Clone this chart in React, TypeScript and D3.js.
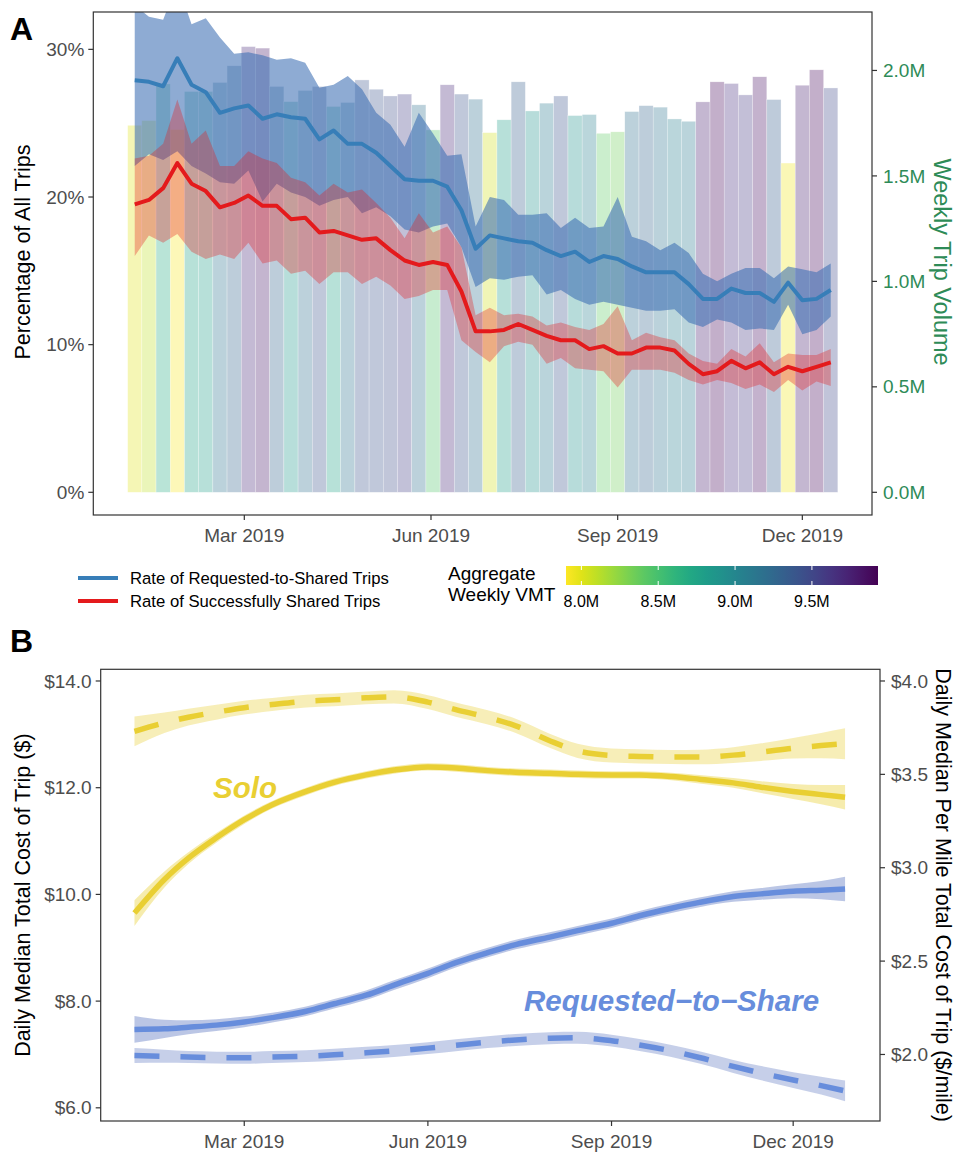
import React from 'react';
import * as d3 from 'd3';

const FONT = "'Liberation Sans', Arial, Helvetica, sans-serif";

// ---------------- Panel A data (weekly) ----------------
const firstWeek = '2019-01-06';
// weekly trip volume, millions
const tripVolumeM = [1.740, 1.762, 1.936, 1.72, 1.900, 1.900, 1.943, 2.022, 2.113, 2.106, 1.924, 1.852, 1.905, 1.924, 1.829, 1.848, 1.955, 1.911, 1.879, 1.888, 1.837, 1.718, 1.932, 1.888, 1.864, 1.705, 1.766, 1.946, 1.808, 1.845, 1.879, 1.786, 1.791, 1.702, 1.709, 1.805, 1.833, 1.826, 1.770, 1.759, 1.851, 1.946, 1.938, 1.884, 1.970, 1.862, 1.561, 1.930, 2.003, 1.917];
// aggregate weekly VMT, millions
const weeklyVMTM = [8.0, 8.1, 8.7, 7.92, 8.75, 8.8, 9.15, 9.3, 9.7, 9.8, 9.3, 8.85, 9.2, 9.4, 8.75, 9.15, 9.4, 9.4, 9.45, 9.55, 9.2, 8.45, 9.7, 9.4, 9.2, 8.05, 8.8, 9.35, 8.9, 9.1, 9.4, 8.9, 9.05, 8.4, 8.35, 9.2, 9.3, 9.15, 9.05, 9.1, 9.75, 9.9, 9.65, 9.6, 9.85, 9.35, 7.95, 9.75, 9.9, 9.5];
const requestedRate = [27.9, 27.8, 27.5, 29.4, 27.6, 27.1, 25.7, 26.0, 26.2, 25.3, 25.6, 25.4, 25.3, 23.9, 24.5, 23.6, 23.6, 23.0, 22.1, 21.2, 21.1, 21.1, 20.7, 19.1, 16.5, 17.4, 17.2, 17.0, 16.9, 16.4, 16.0, 16.3, 15.6, 16.0, 15.8, 15.3, 14.9, 14.9, 14.9, 14.1, 13.1, 13.1, 13.8, 13.5, 13.5, 12.9, 14.2, 13.0, 13.1, 13.7];
const requestedUpper = [33.0, 32.2, 32.0, 34.5, 31.7, 32.1, 30.8, 29.7, 29.8, 29.6, 29.3, 29.4, 29.1, 27.4, 27.6, 28.2, 27.3, 25.7, 24.9, 23.4, 25.7, 24.3, 22.8, 22.9, 18.0, 20.0, 19.8, 18.8, 18.8, 18.9, 17.9, 18.6, 17.9, 18.0, 20.0, 17.3, 17.0, 16.4, 16.9, 16.2, 14.8, 14.3, 14.8, 15.2, 15.2, 14.5, 15.3, 15.1, 14.9, 15.5];
const requestedLower = [22.1, 22.9, 22.5, 23.1, 22.1, 21.6, 21.0, 20.9, 21.8, 19.7, 20.9, 20.3, 20.0, 19.4, 19.8, 20.0, 18.9, 19.3, 18.7, 17.8, 17.6, 18.0, 18.2, 16.6, 13.9, 14.5, 14.4, 14.6, 14.7, 13.4, 13.7, 13.1, 12.7, 12.9, 12.7, 12.5, 12.3, 12.3, 12.4, 11.5, 11.2, 11.7, 11.5, 11.0, 11.1, 11.0, 12.7, 10.7, 11.0, 11.9];
const sharedRate = [19.5, 19.8, 20.6, 22.3, 20.9, 20.4, 19.3, 19.6, 20.1, 19.4, 19.4, 18.5, 18.6, 17.6, 17.7, 17.4, 17.1, 17.2, 16.4, 15.7, 15.4, 15.6, 15.4, 13.6, 10.9, 10.9, 11.0, 11.4, 11.0, 10.6, 10.3, 10.3, 9.7, 9.9, 9.4, 9.4, 9.8, 9.8, 9.6, 8.7, 8.0, 8.2, 8.9, 8.4, 8.8, 8.0, 8.5, 8.2, 8.5, 8.8];
const sharedUpper = [22.6, 22.8, 23.6, 26.6, 23.6, 24.5, 22.1, 22.1, 23.1, 22.6, 22.3, 21.3, 21.0, 20.1, 20.9, 20.3, 20.5, 19.6, 18.6, 17.2, 18.9, 17.6, 18.0, 16.6, 12.0, 12.5, 12.0, 12.1, 11.9, 11.3, 11.5, 11.2, 11.0, 11.4, 12.6, 10.3, 10.8, 10.5, 10.3, 9.4, 8.9, 8.7, 9.7, 9.2, 10.1, 8.8, 9.4, 9.3, 9.3, 9.7];
const sharedLower = [16.0, 17.4, 16.9, 17.5, 16.3, 15.8, 16.1, 15.8, 16.9, 15.5, 15.7, 14.8, 15.0, 14.1, 14.9, 14.9, 14.1, 14.6, 14.0, 13.1, 13.3, 13.7, 13.7, 10.3, 9.5, 8.8, 9.9, 10.2, 10.0, 8.7, 9.1, 8.4, 8.3, 8.2, 7.1, 8.3, 8.3, 8.3, 8.1, 7.6, 7.3, 7.6, 7.4, 7.0, 7.3, 6.8, 7.6, 6.9, 7.5, 7.2];

const pctTicks = [0, 10, 20, 30];
const volumeTicksM = [0, 0.5, 1.0, 1.5, 2.0];
const monthTicks = ['2019-03-01', '2019-06-01', '2019-09-01', '2019-12-01'];
const vmtTicksM = [8.0, 8.5, 9.0, 9.5];
const vmtDomainM = [7.9, 9.93];
const legendLabels = ['Rate of Requested-to-Shared Trips', 'Rate of Successfully Shared Trips'];

// ---------------- Panel B data (smoothed daily medians) ----------------
const costDates = ['2019-01-05', '2019-01-20', '2019-02-01', '2019-02-15', '2019-03-01', '2019-03-15', '2019-04-01', '2019-04-15', '2019-05-01', '2019-05-15', '2019-06-01', '2019-06-15', '2019-07-01', '2019-07-15', '2019-08-01', '2019-08-15', '2019-09-01', '2019-09-15', '2019-10-01', '2019-10-15', '2019-11-01', '2019-11-15', '2019-12-01', '2019-12-15', '2019-12-27'];
const soloTotal = [9.65, 10.28, 10.68, 11.06, 11.40, 11.68, 11.93, 12.10, 12.24, 12.33, 12.39, 12.37, 12.32, 12.29, 12.27, 12.25, 12.24, 12.24, 12.21, 12.16, 12.09, 12.01, 11.93, 11.87, 11.82];
const soloTotalSE = [0.24, 0.15, 0.11, 0.09, 0.08, 0.07, 0.07, 0.07, 0.07, 0.07, 0.07, 0.07, 0.07, 0.07, 0.07, 0.07, 0.07, 0.07, 0.07, 0.08, 0.09, 0.11, 0.14, 0.18, 0.23];
const soloPerMile = [3.730, 3.776, 3.806, 3.833, 3.857, 3.874, 3.892, 3.899, 3.910, 3.915, 3.887, 3.847, 3.805, 3.760, 3.680, 3.626, 3.601, 3.596, 3.593, 3.593, 3.603, 3.619, 3.640, 3.654, 3.664];
const soloPerMileSE = [0.08, 0.055, 0.045, 0.04, 0.037, 0.035, 0.034, 0.034, 0.034, 0.035, 0.037, 0.038, 0.038, 0.038, 0.038, 0.038, 0.038, 0.038, 0.038, 0.039, 0.042, 0.047, 0.055, 0.068, 0.083];
const rtsTotal = [7.47, 7.48, 7.51, 7.55, 7.61, 7.69, 7.81, 7.95, 8.11, 8.30, 8.52, 8.72, 8.91, 9.06, 9.20, 9.32, 9.46, 9.60, 9.74, 9.85, 9.96, 10.01, 10.06, 10.08, 10.10];
const rtsTotalSE = [0.25, 0.17, 0.13, 0.11, 0.10, 0.09, 0.09, 0.09, 0.09, 0.09, 0.09, 0.09, 0.09, 0.09, 0.09, 0.09, 0.09, 0.09, 0.09, 0.09, 0.10, 0.11, 0.13, 0.17, 0.23];
const rtsPerMile = [1.994, 1.990, 1.986, 1.983, 1.982, 1.986, 1.991, 1.998, 2.009, 2.019, 2.034, 2.049, 2.066, 2.078, 2.087, 2.089, 2.074, 2.051, 2.019, 1.984, 1.936, 1.900, 1.863, 1.833, 1.805];
const rtsPerMileSE = [0.04, 0.035, 0.032, 0.032, 0.032, 0.032, 0.032, 0.032, 0.032, 0.032, 0.032, 0.032, 0.032, 0.032, 0.032, 0.032, 0.032, 0.032, 0.032, 0.033, 0.035, 0.038, 0.042, 0.048, 0.055];
const totalCostTicks = [6, 8, 10, 12, 14];
const perMileTicks = [2.0, 2.5, 3.0, 3.5, 4.0];
const perMileRatio = 3.5;

const BLUE = '#377EB8';
const RED = '#E41A1C';
const GREEN = '#2E8B57';
const GOLD = '#E9CF33';
const CORN = '#678DDC';
const TICK = '#4D4D4D';

export default function App() {
  const parse = d3.timeParse('%Y-%m-%d');
  const DAY = 864e5;
  const start = parse(firstWeek) as Date;
  const weeks = tripVolumeM.map((_, i) => new Date(+start + i * 7 * DAY));
  const months = monthTicks.map((s) => parse(s) as Date);
  const fmtMonth = d3.timeFormat('%b %Y');

  // ---------- Panel A ----------
  const A = { l: 93.3, r: 872, t: 12, b: 515 };
  const xA = d3.scaleTime().domain([new Date(2018, 11, 16, 14), new Date(2020, 0, 4, 8)]).range([A.l, A.r]);
  const yA = d3.scaleLinear().domain([-1.537, 32.53]).range([A.b, A.t]);
  const volToPct = (v: number) => (v * 1e6) / 70000;
  const color = d3.scaleSequential((t: number) => d3.interpolateViridis(1 - t)).domain(vmtDomainM as [number, number]);

  const lineA = (vals: number[]) =>
    d3.line<number>().x((_, i) => xA(weeks[i])).y((v) => yA(v))(vals) || '';
  const areaA = (lo: number[], hi: number[]) =>
    d3.area<number>().x((_, i) => xA(weeks[i])).y0((_, i) => yA(lo[i])).y1((_, i) => yA(hi[i]))(lo) || '';

  // ---------- Panel B ----------
  const B = { l: 100.7, r: 880, t: 669.3, b: 1121 };
  const cd = costDates.map((s) => parse(s) as Date);
  const xB = d3.scaleTime().domain([new Date(2018, 11, 19, 2), new Date(2020, 0, 13, 12)]).range([B.l, B.r]);
  const yB = d3.scaleLinear().domain([5.753, 14.219]).range([B.b, B.t]);
  const k = (v: number, f: number) => v * f;
  const lineB = (vals: number[], f: number) =>
    d3.line<number>().curve(d3.curveMonotoneX).x((_, i) => xB(cd[i])).y((v) => yB(k(v, f)))(vals) || '';
  const areaB = (vals: number[], se: number[], f: number) =>
    d3.area<number>().curve(d3.curveMonotoneX).x((_, i) => xB(cd[i]))
      .y0((v, i) => yB(k(v - se[i], f))).y1((v, i) => yB(k(v + se[i], f)))(vals) || '';

  // colorbar
  const CB = { x0: 566, x1: 878, y0: 566, y1: 585 };
  const cbScale = d3.scaleLinear().domain(vmtDomainM).range([CB.x0, CB.x1]);
  const gradStops = d3.range(0, 21).map((i) => {
    const v = vmtDomainM[0] + ((vmtDomainM[1] - vmtDomainM[0]) * i) / 20;
    return { off: `${i * 5}%`, c: color(v) };
  });

  const tickFont = 19;
  const titleFont = 21.5;

  return (
    <svg width={958} height={1154} style={{ position: 'absolute', left: 0, top: 0, display: 'block' }} fontFamily={FONT}>
      <defs>
        <clipPath id="clipA"><rect x={A.l} y={A.t} width={A.r - A.l} height={A.b - A.t} /></clipPath>
        <clipPath id="clipB"><rect x={B.l} y={B.t} width={B.r - B.l} height={B.b - B.t} /></clipPath>
        <linearGradient id="vmtGrad" x1="0" x2="1" y1="0" y2="0">
          {gradStops.map((s, i) => <stop key={i} offset={s.off} stopColor={s.c} />)}
        </linearGradient>
      </defs>
      <rect x={0} y={0} width={958} height={1154} fill="#fff" />

      {/* ================= Panel A ================= */}
      <text x={10} y={40} fontSize={32} fontWeight="bold">A</text>
      <g clipPath="url(#clipA)">
        {weeks.map((d, i) => {
          const x0 = xA(new Date(+d - 3.5 * DAY));
          const x1 = xA(new Date(+d + 3.5 * DAY));
          const y1 = yA(volToPct(tripVolumeM[i]));
          return (
            <rect key={i} x={x0} y={y1} width={x1 - x0} height={yA(0) - y1}
              fill={color(weeklyVMTM[i])} fillOpacity={0.32} stroke="#fff" strokeWidth={0.5} strokeOpacity={0.6} />
          );
        })}
        <path d={areaA(requestedLower, requestedUpper)} fill="#3D6EB4" fillOpacity={0.58} />
        <path d={areaA(sharedLower, sharedUpper)} fill={RED} fillOpacity={0.33} />
        <path d={lineA(requestedRate)} fill="none" stroke={BLUE} strokeWidth={4} strokeLinejoin="round" />
        <path d={lineA(sharedRate)} fill="none" stroke={RED} strokeWidth={4} strokeLinejoin="round" />
      </g>
      <rect x={A.l} y={A.t} width={A.r - A.l} height={A.b - A.t} fill="none" stroke="#333" strokeWidth={1.2} />
      {/* left axis */}
      {pctTicks.map((t) => (
        <g key={t}>
          <line x1={A.l - 5} x2={A.l} y1={yA(t)} y2={yA(t)} stroke="#333" strokeWidth={1.2} />
          <text x={A.l - 9} y={yA(t)} dy="0.35em" textAnchor="end" fontSize={tickFont} fill={TICK}>{`${t}%`}</text>
        </g>
      ))}
      {/* right axis */}
      {volumeTicksM.map((t) => (
        <g key={t}>
          <line x1={A.r} x2={A.r + 5} y1={yA(volToPct(t))} y2={yA(volToPct(t))} stroke="#333" strokeWidth={1.2} />
          <text x={A.r + 11} y={yA(volToPct(t))} dy="0.35em" textAnchor="start" fontSize={tickFont} fill={GREEN}>{`${d3.format('.1f')(t)}M`}</text>
        </g>
      ))}
      {/* bottom axis */}
      {months.map((m, i) => (
        <g key={i}>
          <line x1={xA(m)} x2={xA(m)} y1={A.b} y2={A.b + 5} stroke="#333" strokeWidth={1.2} />
          <text x={xA(m)} y={A.b + 27} textAnchor="middle" fontSize={tickFont} fill={TICK}>{fmtMonth(m)}</text>
        </g>
      ))}
      <text transform="translate(22,252) rotate(-90)" dy="0.35em" textAnchor="middle" fontSize={titleFont}>Percentage of All Trips</text>
      <text transform="translate(942,262) rotate(90)" dy="0.35em" textAnchor="middle" fontSize={23.5} fill={GREEN}>Weekly Trip Volume</text>

      {/* legend */}
      <line x1={78} x2={118} y1={578} y2={578} stroke={BLUE} strokeWidth={4} />
      <text x={130} y={578} dy="0.35em" fontSize={16.7}>{legendLabels[0]}</text>
      <line x1={78} x2={118} y1={601} y2={601} stroke={RED} strokeWidth={4} />
      <text x={130} y={601} dy="0.35em" fontSize={16.7}>{legendLabels[1]}</text>

      <text x={448} y={573} dy="0.35em" fontSize={19}>Aggregate</text>
      <text x={448} y={594} dy="0.35em" fontSize={19}>Weekly VMT</text>
      <rect x={CB.x0} y={CB.y0} width={CB.x1 - CB.x0} height={CB.y1 - CB.y0} fill="url(#vmtGrad)" />
      {vmtTicksM.map((t) => (
        <g key={t}>
          <line x1={cbScale(t)} x2={cbScale(t)} y1={CB.y0} y2={CB.y0 + 4} stroke="#fff" strokeWidth={1} />
          <line x1={cbScale(t)} x2={cbScale(t)} y1={CB.y1 - 4} y2={CB.y1} stroke="#fff" strokeWidth={1} />
          <text x={cbScale(t)} y={CB.y1 + 16} dy="0.35em" textAnchor="middle" fontSize={16}>{`${d3.format('.1f')(t)}M`}</text>
        </g>
      ))}

      {/* ================= Panel B ================= */}
      <text x={10} y={652} fontSize={32} fontWeight="bold">B</text>
      <g clipPath="url(#clipB)">
        <path d={areaB(soloPerMile, soloPerMileSE, perMileRatio)} fill={GOLD} fillOpacity={0.35} />
        <path d={areaB(soloTotal, soloTotalSE, 1)} fill={GOLD} fillOpacity={0.4} />
        <path d={areaB(rtsTotal, rtsTotalSE, 1)} fill="#7088C8" fillOpacity={0.48} />
        <path d={areaB(rtsPerMile, rtsPerMileSE, perMileRatio)} fill="#7088C8" fillOpacity={0.4} />
        <path d={lineB(soloPerMile, perMileRatio)} fill="none" stroke={GOLD} strokeWidth={5.5} strokeDasharray="25 21" />
        <path d={lineB(soloTotal, 1)} fill="none" stroke={GOLD} strokeWidth={5.5} />
        <path d={lineB(rtsTotal, 1)} fill="none" stroke={CORN} strokeWidth={5.5} />
        <path d={lineB(rtsPerMile, perMileRatio)} fill="none" stroke={CORN} strokeWidth={5.5} strokeDasharray="25 21" />
      </g>
      <rect x={B.l} y={B.t} width={B.r - B.l} height={B.b - B.t} fill="none" stroke="#333" strokeWidth={1.2} />
      {totalCostTicks.map((t) => (
        <g key={t}>
          <line x1={B.l - 5} x2={B.l} y1={yB(t)} y2={yB(t)} stroke="#333" strokeWidth={1.2} />
          <text x={B.l - 9} y={yB(t)} dy="0.35em" textAnchor="end" fontSize={tickFont} fill={TICK}>{`$${d3.format('.1f')(t)}`}</text>
        </g>
      ))}
      {perMileTicks.map((t) => (
        <g key={t}>
          <line x1={B.r} x2={B.r + 5} y1={yB(t * perMileRatio)} y2={yB(t * perMileRatio)} stroke="#333" strokeWidth={1.2} />
          <text x={B.r + 11} y={yB(t * perMileRatio)} dy="0.35em" textAnchor="start" fontSize={tickFont} fill={TICK}>{`$${d3.format('.1f')(t)}`}</text>
        </g>
      ))}
      {months.map((m, i) => (
        <g key={i}>
          <line x1={xB(m)} x2={xB(m)} y1={B.b} y2={B.b + 5} stroke="#333" strokeWidth={1.2} />
          <text x={xB(m)} y={B.b + 27} textAnchor="middle" fontSize={tickFont} fill={TICK}>{fmtMonth(m)}</text>
        </g>
      ))}
      <text transform={`translate(22,${(B.t + B.b) / 2}) rotate(-90)`} dy="0.35em" textAnchor="middle" fontSize={titleFont}>Daily Median Total Cost of Trip ($)</text>
      <text transform={`translate(944,${(B.t + B.b) / 2}) rotate(90)`} dy="0.35em" textAnchor="middle" fontSize={titleFont}>Daily Median Per Mile Total Cost of Trip ($/mile)</text>

      <text x={213} y={798} fontSize={29.5} fontWeight="bold" fontStyle="italic" fill={GOLD}>Solo</text>
      <text x={524} y={1011} fontSize={29.5} fontWeight="bold" fontStyle="italic" fill={CORN}>Requested−to−Share</text>
    </svg>
  );
}
